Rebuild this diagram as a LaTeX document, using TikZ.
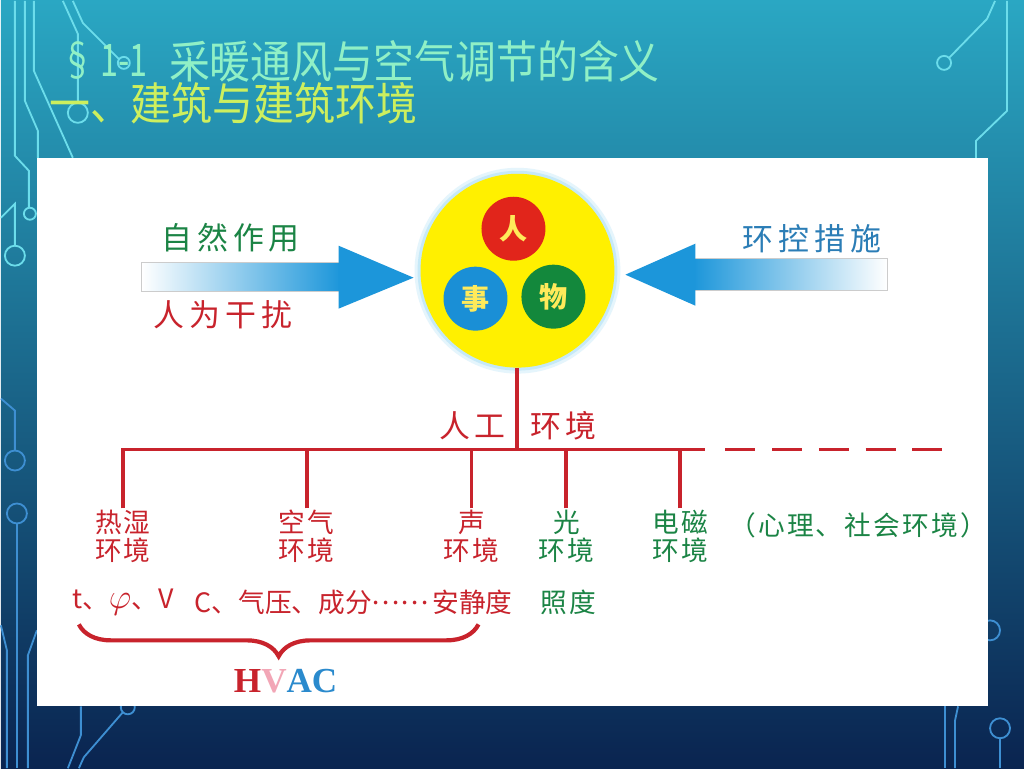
\documentclass[tikz,border=0pt]{standalone}
\usepackage{fontspec}
\setmainfont{Liberation Serif}
\newfontfamily\cjk{Noto Sans CJK SC}
\newfontfamily\cjkl{Noto Sans CJK SC}[LetterSpace=8]
\newfontfamily\cjkx{Noto Sans CJK SC}[LetterSpace=16]
\newfontfamily\titre{Noto Sans CJK SC}[FakeStretch=0.91]
\newfontfamily\titrec{Noto Sans CJK SC}[FakeStretch=0.72]
\usetikzlibrary{decorations.pathreplacing}
\definecolor{fondhaut}{HTML}{2AA7C3}
\definecolor{fondmilieu}{HTML}{1F84A8}
\definecolor{fondbas}{HTML}{0A2450}
\definecolor{circuitA}{HTML}{6CDDEB}
\definecolor{circuitB}{HTML}{3E8FD2}
\definecolor{rouge}{HTML}{C8232C}
\definecolor{vert}{HTML}{1B8445}
\definecolor{bleutxt}{HTML}{2B7DB6}
\definecolor{fleche}{HTML}{1C96DA}
\definecolor{jaune}{HTML}{FFF000}
\definecolor{halo}{HTML}{BFE6F8}
\definecolor{rougerond}{HTML}{E1251B}
\definecolor{bleurond}{HTML}{1A8FD6}
\definecolor{vertrond}{HTML}{13883C}
\definecolor{jaunetxt}{HTML}{FFEA5A}
\definecolor{titreA}{HTML}{90F0C6}
\definecolor{titreB}{HTML}{CDEF5E}
\definecolor{rose}{HTML}{F2A6B6}
\definecolor{bleuA}{HTML}{2A8ACD}
\begin{document}
\begin{tikzpicture}[x=0.25mm,y=-0.25mm]
			\tikzstyle{trait}=[rouge,line width=2.8pt]
			\tikzstyle{circuit}=[circuitA,line width=1.3pt]
			\tikzstyle{circuitbas}=[circuitB,line width=1.3pt]
			\tikzstyle{rond}=[circle,inner sep=0pt,minimum size=16mm,text=jaunetxt,font=\cjk\bfseries\fontsize{20}{20}\selectfont]
			\tikzstyle{feuille}=[align=center,inner sep=1pt,font=\cjkl\fontsize{19}{20}\selectfont]
			\tikzstyle{mesure}=[inner sep=1pt,font=\cjk\fontsize{19}{20}\selectfont]
			\tikzstyle{action}=[inner sep=1pt,font=\cjkx\fontsize{22}{22}\selectfont]
			\tikzstyle{accolade}=[rouge,line width=3pt,decorate,decoration={brace,mirror,amplitude=8mm}]
			% fond et circuits
			\shade[top color=fondhaut,middle color=fondmilieu,bottom color=fondbas] (0,0) rectangle (1024,768);
			\draw[circuit] (14,0)--(14,155)--(28,170)--(28,207);
			\draw[circuit] (29,213) circle (6);
			\draw[circuit] (24,0)--(24,100)--(37,130)--(37,157);
			\draw[circuit] (33,0)--(33,70)--(72,157);
			\draw[circuit] (62,0)--(77,33)--(77,102);
			\draw[circuit] (77,112) circle (10);
			\draw[circuit] (72,0)--(82,22)--(118,58);
			\draw[circuit] (123,62) circle (6);
			\draw[circuit] (0,217)--(14,203)--(14,245);
			\draw[circuit] (14,255) circle (10);
			\draw[circuit] (995,0)--(987,18)--(949,57);
			\draw[circuit] (944,62) circle (7);
			\draw[circuit] (1007,0)--(1007,110)--(976,140)--(976,157);
			\draw[circuitbas] (0,398)--(14,410)--(14,450);
			\draw[circuitbas] (14,460) circle (10);
			\draw[circuitbas] (16,513) circle (10);
			\draw[circuitbas] (16,523)--(16,768);
			\draw[circuitbas] (0,625)--(6,650)--(6,768);
			\draw[circuitbas] (36,630)--(27,655)--(27,768);
			\draw[circuitbas] (80,706)--(80,735)--(67,768);
			\draw[circuitbas] (127,707) circle (7);
			\draw[circuitbas] (122,712)--(83,757)--(78,768);
			\draw[circuitbas] (990,630) circle (10);
			\draw[circuitbas] (945,706)--(945,768);
			\draw[circuitbas] (958,706)--(955,720)--(955,768);
			\draw[circuitbas] (1000,728) circle (10);
			\draw[circuitbas] (1000,738)--(1000,768);
			% titres
			\node[anchor=west,inner sep=0pt,text=titreA,font=\titrec\fontsize{32}{32}\selectfont] (Ta) at (60,60) {§ 1-1};
			\node[anchor=west,inner sep=0pt,text=titreA,font=\titre\fontsize{32}{32}\selectfont] (Tb) at (168,60) {采暖通风与空气调节的含义};
			\node[anchor=west,inner sep=0pt,text=titreB,font=\titre\fontsize{32}{32}\selectfont] (Tc) at (48,103) {一、建筑与建筑环境};
			% panneau
			\fill[white] (36,157) rectangle (988,706);
			% fleches
			\shade[left color=white,right color=fleche,draw=gray!40,line width=0.5pt] (141,262) rectangle (340,291);
			\fill[fleche] (338,245) -- (413,277) -- (338,308) -- cycle;
			\shade[left color=fleche,right color=white,draw=gray!40,line width=0.5pt] (693,258) rectangle (887,290);
			\fill[fleche] (695,243) -- (625,274) -- (695,305) -- cycle;
			\node[action,text=vert] (Fa) at (230,237) {自然作用};
			\node[action,text=rouge] (Fb) at (222,314) {人为干扰};
			\node[action,text=bleutxt] (Fc) at (812,238) {环控措施};
			% cercles
			\fill[halo,opacity=0.4] (517,270) circle (103);
			\fill[halo,opacity=0.8] (517,270) circle (100);
			\node[circle,fill=jaune,inner sep=0pt,minimum size=48.5mm] (C) at (517,270) {};
			\node[rond,fill=rougerond] (Ca) at (513,228) {人};
			\node[rond,fill=bleurond] (Cb) at (475,298) {事};
			\node[rond,fill=vertrond] (Cc) at (553,296) {物};
			% arbre
			\coordinate (Hd) at (705,449);
			\coordinate (Pa) at (725,449);
			\coordinate (Pb) at (945,449);
			\node[action,text=rouge,anchor=east] (E1) at (507,425) {人工};
			\node[action,text=rouge,anchor=west] (E2) at (528,425) {环境};
			\node[feuille,text=rouge,anchor=north] (Ea) at (122,508) {热湿\\环境};
			\node[feuille,text=rouge,anchor=north] (Eb) at (306,508) {空气\\环境};
			\node[feuille,text=rouge,anchor=north] (Ec) at (471,508) {声\\环境};
			\node[feuille,text=vert,anchor=north] (Ed) at (566,508) {光\\环境};
			\node[feuille,text=vert,anchor=north] (Ee) at (680,508) {电磁\\环境};
			\node[feuille,text=vert] (Ef) at (858,525) {（心理、社会环境）};
			\node[mesure,text=rouge] (Ma) at (122,602) {t、{\fontsize{27}{27}\selectfont$\varphi$}、V};
			\node[mesure,text=rouge] (Mb) at (311,602) {C、气压、成分\raisebox{0.3em}{……}};
			\node[mesure,text=rouge] (Mc) at (472,602) {安静度};
			\node[feuille,text=vert] (Md) at (568,602) {照度};
			\draw[trait] (C.south) -- (C.south |- Hd);
			\draw[trait] (Ea.north) -- (Ea.north |- Hd) -- (Hd);
			\draw[trait] (Eb.north) -- (Eb.north |- Hd);
			\draw[trait] (Ec.north) -- (Ec.north |- Hd);
			\draw[trait] (Ed.north) -- (Ed.north |- Hd);
			\draw[trait] (Ee.north) -- (Ee.north |- Hd);
			\draw[trait,dash pattern=on 21.3pt off 12pt] (Pa) -- (Pb);
			% accolade
			\coordinate (Bg) at (78,624);
			\coordinate (Bd) at (478,624);
			\draw[accolade] (Bg) -- (Bd);
			\node[font=\fontsize{25}{25}\selectfont\bfseries,inner sep=0pt] (H) at (285,681) {\textcolor{rouge}{H}\textcolor{rose}{V}\textcolor{bleuA}{A}\textcolor{bleuA}{C}};
		\end{tikzpicture}
\end{document}
